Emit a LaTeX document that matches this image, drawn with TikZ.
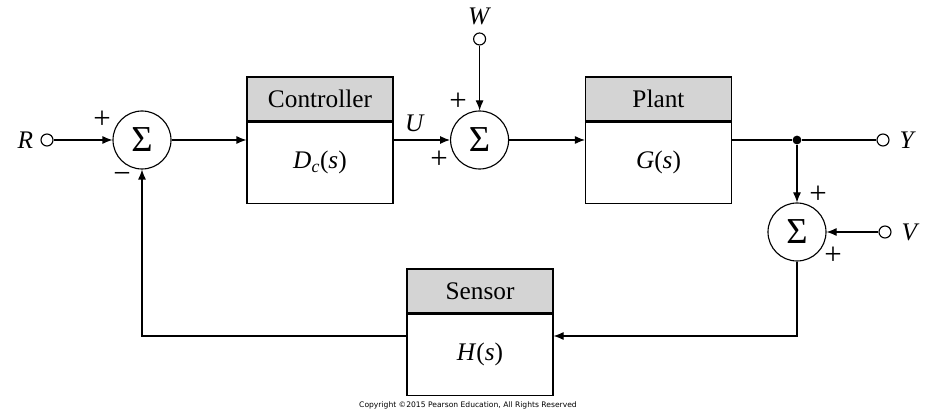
\documentclass[tikz,border=0pt]{standalone}
\usepackage{fontspec}
\setmainfont{Liberation Serif}
\newfontfamily\cpfont{DejaVu Sans}
\usepackage{tikz}
\usetikzlibrary{positioning, arrows.meta}

\begin{document}
\begin{tikzpicture}[font=\fontsize{18}{21}\selectfont, line width=0.8pt,
   >={Latex[length=2.5mm,width=2mm]}]
   \tikzstyle{sumnode}=[circle, draw, minimum size=1.45cm, inner sep=0pt, font=\fontsize{26}{28}\selectfont]
   \tikzstyle{port}=[circle, draw, fill=white, minimum size=0.3cm, inner sep=0pt]
   \tikzstyle{head}=[rectangle, draw, fill=black!17, minimum width=3.65cm, minimum height=1.1cm, inner sep=0pt]
   \tikzstyle{body}=[rectangle, draw, minimum width=3.65cm, minimum height=2.025cm, inner sep=0pt]
   \tikzstyle{bk}=[circle, fill=black, minimum size=0.22cm, inner sep=0pt]
   \tikzstyle{sgn}=[font=\fontsize{22}{24}\selectfont, inner sep=0pt]
   \useasboundingbox (0,0) rectangle (23.2,10.275);
   %% blocks
\node (ctrlH) at (8,7.8) [head] {Controller};
\node (ctrl) [body, below=0cm of ctrlH] {\textit{D}\textsubscript{\textit{c}}(\textit{s})};
\node (plantH) at (16.4625,7.8) [head] {Plant};
\node (plant) [body, below=0cm of plantH] {\textit{G}(\textit{s})};
\node (sensH) at (12,3) [head] {Sensor};
\node (sens) [body, below=0cm of sensH] {\textit{H}(\textit{s})};
   %% summing points
\node (s1) at (3.55,6.775) [sumnode] {Σ};
\node (s2) at (11.99,6.775) [sumnode] {Σ};
\node (s3) at (19.925,4.475) [sumnode] {Σ};
   %% ports
\node (rin) at (1.175,6.775) [port] {};
\node (win) at (11.99,9.3) [port] {};
\node (yout) at (22.075,6.775) [port] {};
\node (vin) at (22.125,4.475) [port] {};
\node (dot) at (19.925,6.775) [bk] {};
\coordinate (fb) at (0,1.875);
   %% labels
\node (R) [left=0.05cm of rin] {\textit{R}};
\node (W) [above=0.05cm of win] {\textit{W}};
\node (Y) [right=0.12cm of yout] {\textit{Y}};
\node (V) [right=0.12cm of vin] {\textit{V}};
\node (U) at (10.375,7.2) {\textit{U}};
\node (p1) at (2.55,7.275) [sgn] {+};
\node (m1) at (3.05,5.825) [sgn] {−};
\node (p2) at (11.45,7.725) [sgn] {+};
\node (p3) at (10.975,6.275) [sgn] {+};
\node (p4) at (20.45,5.4) [sgn] {+};
\node (p5) at (20.825,3.875) [sgn] {+};
\node (copy) at (11.7,0.15) {\cpfont\fontsize{5.4}{6}\selectfont Copyright ©2015 Pearson Education, All Rights Reserved};
   %% connectors
\draw[->] (rin) -- (s1);
\draw[->] (s1) -- (s1 -| ctrl.west);
\draw[->] (s2 -| ctrl.east) -- (s2);
\draw[->] (win) -- (s2);
\draw[->] (s2) -- (s2 -| plant.west);
\draw (dot -| plant.east) -- (dot) -- (yout);
\draw[->] (dot) -- (s3);
\draw[->] (vin) -- (s3);
\draw[->] (s3) |- (sens.east |- fb);
\draw[->] (sens.west |- fb) -| (s1);
\end{tikzpicture}
\end{document}
